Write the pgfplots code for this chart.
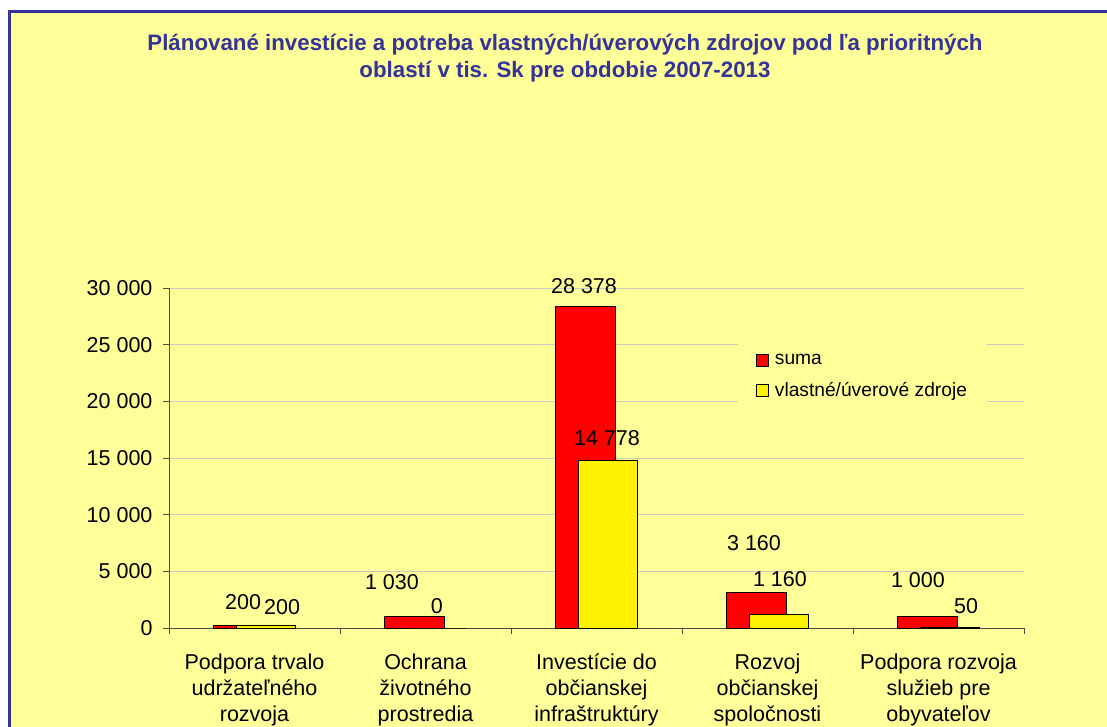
\documentclass[border=0pt]{standalone}
\usepackage{pgfplots}
\pgfplotsset{compat=1.18}
\usepackage{fontspec}
\setmainfont{Liberation Sans}
\definecolor{bg}{HTML}{FFFF99}
\definecolor{frame}{HTML}{333399}
\definecolor{axc}{HTML}{4D4D40}
\definecolor{gridc}{HTML}{CBCBC0}
\pgfplotsset{mylegend/.style={legend image code/.code={\draw[##1,/tikz/.cd,draw=black,line width=0.7pt] (0pt,-6pt) rectangle (12pt,6pt);}}}
\begin{document}
\begin{tikzpicture}[x=1pt,y=1pt]
\useasboundingbox (0,0) rectangle (1107,726);
\fill[white] (0,0) rectangle (1107,726);
\filldraw[fill=bg, draw=frame, line width=3pt] (9.5,-20) rectangle (1130,714.5);
\node[font=\bfseries\fontsize{22.3}{27}\selectfont, text=frame, align=center] at (565,667.5)
  {Plánované investície a potreba vlastných/úverových zdrojov pod ľa prioritných\\oblastí v tis. Sk pre obdobie 2007-2013};
\begin{axis}[
  at={(169pt,98pt)}, anchor=south west,
  scale only axis, width=855pt, height=340pt,
  xmin=-0.5, xmax=4.5, ymin=0, ymax=30000,
  axis lines*=left,
  axis line style={axc, line width=1pt},
  tick align=outside, major tick length=6pt,
  tick style={axc, line width=0.8pt},
  scaled y ticks=false,
  ytick={0,5000,...,30000},
  yticklabels={0,5 000,10 000,15 000,20 000,25 000,30 000},
  xtick={-0.5,0.5,...,4.5},
  x tick label as interval,
  xticklabels={{Podpora trvalo\\udržateľného\\rozvoja},{Ochrana\\životného\\prostredia},{Investície do\\občianskej\\infraštruktúry},{Rozvoj\\občianskej\\spoločnosti},{Podpora rozvoja\\služieb pre\\obyvateľov}},
  ticklabel style={font=\fontsize{21.5}{26}\selectfont},
  xticklabel style={align=center, yshift=-16pt},
  yticklabel style={xshift=-7pt},
  ymajorgrids, grid style={gridc, line width=0.8pt},
  clip=false,
  legend style={at={(0.6655,0.847)}, anchor=north west, draw=none, fill=bg,
    font=\fontsize{19.2}{22}\selectfont, inner xsep=18pt, inner ysep=12pt, row sep=12pt,
    cells={anchor=west}, /tikz/every odd column/.append style={column sep=4pt}},
]
\addplot[ybar, bar width=0.348, bar shift=-0.066, fill=red, draw=black, line width=0.8pt, mylegend]
  coordinates {(0,200) (1,1030) (2,28378) (3,3160) (4,1000)};
\addlegendentry{suma}
\addplot[ybar, bar width=0.348, bar shift=0.066, fill=yellow, draw=black, line width=0.8pt, mylegend]
  coordinates {(0,200) (1,0) (2,14778) (3,1160) (4,50)};
\addlegendentry{vlastné/úverové zdroje}
\begin{scope}[font=\fontsize{21.5}{24}\selectfont]
\node at (axis cs:-0.067,2294) {200};
\node at (axis cs:0.161,1853) {200};
\node at (axis cs:0.804,4059) {1 030};
\node at (axis cs:1.067,1941) {0};
\node at (axis cs:1.927,30176) {28 378};
\node at (axis cs:2.061,16765) {14 778};
\node at (axis cs:2.921,7500) {3 160};
\node at (axis cs:3.073,4324) {1 160};
\node at (axis cs:3.880,4235) {1 000};
\node at (axis cs:4.161,1941) {50};
\end{scope}
\end{axis}
\end{tikzpicture}
\end{document}
